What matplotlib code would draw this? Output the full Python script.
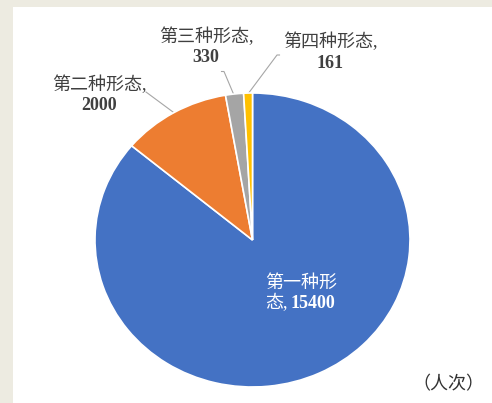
import matplotlib.pyplot as plt
from matplotlib.patches import Rectangle

# data
forms = ["第一种形态", "第二种形态", "第三种形态", "第四种形态"]
counts = [15400, 2000, 330, 161]
colors = ["#4472C4", "#ED7D31", "#A5A5A5", "#FFC000"]
unit_note = "（人次）"

W, H = 492, 403
SX = 157.5 / 147.0  # the pie in the reference is a bit wider than tall

plt.rcParams["font.family"] = ["Liberation Serif", "Noto Sans CJK SC", "DejaVu Sans"]


def X(px):
    return px / SX


def Y(py):
    return H - py


fig = plt.figure(figsize=(W / 100, H / 100), dpi=100, facecolor="#edebe1")
ax = fig.add_axes([0, 0, 1, 1])
ax.add_patch(Rectangle((X(13), 0), W, Y(7), facecolor="white", edgecolor="none", zorder=0))

ax.pie(
    counts,
    colors=colors,
    startangle=90,
    counterclock=False,
    center=(X(252.5), Y(240)),
    radius=147,
    frame=True,
    wedgeprops=dict(edgecolor="white", linewidth=1.2, zorder=2),
)
ax.set_xlim(0, W / SX)
ax.set_ylim(0, H)
ax.set_aspect("auto")
ax.axis("off")

fs = 13
txt = "#404040"
line_kw = dict(color="#a6a6a6", lw=0.8, zorder=1)

# leader lines
ax.plot([X(146), X(173)], [Y(92), Y(112)], **line_kw)
ax.plot([X(221.5), X(224), X(233.3)], [Y(71.5), Y(71.5), Y(93.5)], **line_kw)
ax.plot([X(279.5), X(277), X(248.3)], [Y(55), Y(55), Y(93.5)], **line_kw)

# outside labels: (center x, name y, number y)
outside = [(1, 99, 85, 106), (2, 206, 37, 58), (3, 330, 42, 63)]
for i, cx, ny, vy in outside:
    ax.text(X(cx), Y(ny), forms[i] + ",", ha="center", va="center",
            fontsize=fs, color=txt, zorder=3)
    ax.text(X(cx), Y(vy), str(counts[i]), ha="center", va="center",
            fontsize=fs, fontweight="bold", color=txt, zorder=3)

# label inside the big slice
ax.text(X(265), Y(283), forms[0][:4], ha="left", va="center",
        fontsize=fs, color="white", zorder=3)
ax.text(X(265), Y(303), forms[0][4:] + ",", ha="left", va="center",
        fontsize=fs, color="white", zorder=3)
ax.text(X(291), Y(304), str(counts[0]), ha="left", va="center",
        fontsize=fs, fontweight="bold", color="white", zorder=3)

ax.text(X(484), Y(385), unit_note, ha="right", va="center",
        fontsize=fs, color="#333333", zorder=3)

fig.savefig("out.png", dpi=100, facecolor=fig.get_facecolor())
